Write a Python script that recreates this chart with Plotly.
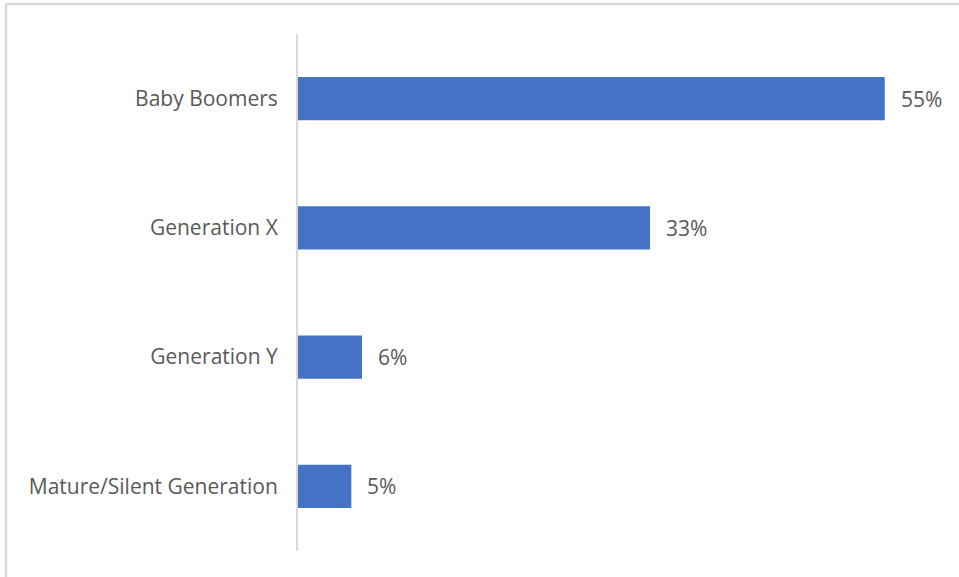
import plotly.graph_objects as go

# Share of respondents by generation
categories = ["Baby Boomers", "Generation X", "Generation Y", "Mature/Silent Generation"]
shares = [55, 33, 6, 5]

W, H = 959, 577
L, R, T, B = 298, 22, 34, 26
plot_w = W - L - R
plot_h = H - T - B

text_color = "#595959"
font_family = "'Open Sans', sans-serif"
font_size = 21

fig = go.Figure(
    go.Bar(
        x=shares,
        y=categories,
        orientation="h",
        marker=dict(color="#4472C4", line=dict(width=0)),
        hoverinfo="skip",
    )
)

# value labels placed just past the end of each bar
for cat, val in zip(categories, shares):
    fig.add_annotation(
        x=val, y=cat, xref="x", yref="y",
        text=f"{val}%", showarrow=False,
        xanchor="left", yanchor="middle", xshift=14,
        font=dict(color=text_color, size=font_size, family=font_family),
    )

# light frame along the top and left edges of the chart area
px_x = lambda px: (px - L) / plot_w
px_y = lambda py: (H - B - py) / plot_h
frame = dict(color="#d9d9d9", width=2.5)
fig.add_shape(type="line", xref="paper", yref="paper",
              x0=px_x(6), x1=px_x(W + 5), y0=px_y(4), y1=px_y(4), line=frame)
fig.add_shape(type="line", xref="paper", yref="paper",
              x0=px_x(6), x1=px_x(6), y0=px_y(4), y1=px_y(H + 5), line=frame)

fig.update_layout(
    width=W,
    height=H,
    margin=dict(l=L, r=R, t=T, b=B),
    paper_bgcolor="white",
    plot_bgcolor="white",
    bargap=0.667,
    showlegend=False,
    font=dict(family=font_family, color=text_color, size=font_size),
    xaxis=dict(range=[0, 59.9], visible=False, showgrid=False, zeroline=False),
    yaxis=dict(
        categoryorder="array",
        categoryarray=categories[::-1],
        showgrid=False,
        zeroline=False,
        showline=True,
        linecolor="#d9d9d9",
        linewidth=2,
        ticks="",
        ticklabelstandoff=14,
        tickfont=dict(size=font_size, color=text_color, family=font_family),
    ),
)

fig.write_html("out.html")
